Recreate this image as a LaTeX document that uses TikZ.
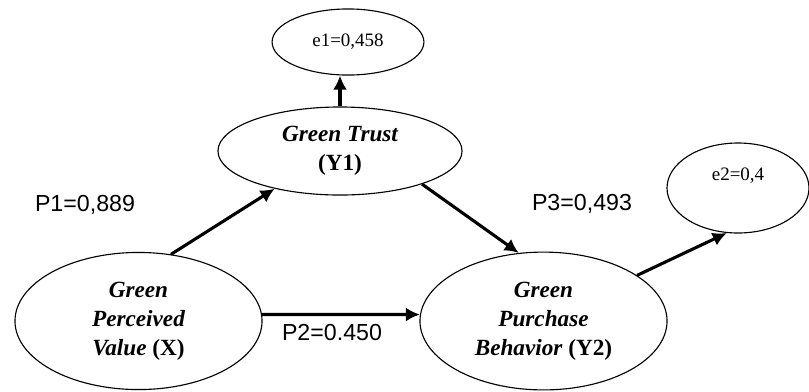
\documentclass[tikz,border=0pt]{standalone}
\usepackage{fontspec}
\setmainfont{Liberation Serif}
\newfontfamily\coeffont{Liberation Sans}
\usetikzlibrary{shapes.geometric, arrows.meta}

\tikzset{
    var/.style={ellipse, draw, line width=0.8pt, inner sep=0pt, align=center,
        font=\fontsize{16.5}{20.5}\selectfont\bfseries\itshape},
    err/.style={ellipse, draw, line width=0.8pt, inner sep=0pt,
        font=\fontsize{13.5}{16}\selectfont},
    link/.style={line width=2.2pt, -{Latex[length=10pt, width=10pt]}},
    coef/.style={font=\coeffont\fontsize{16.5}{20}\selectfont}
}

\begin{document}
\begin{tikzpicture}[x=0.025cm, y=-0.025cm]
    \useasboundingbox (0,0) rectangle (809,391);
    % latent variables
    \node [var, minimum width=175.7pt, minimum height=97.5pt] (X) at (138.5,321) {Green\\Perceived\\Value \textup{(X)}};
    \node [var, minimum width=173.6pt, minimum height=62.6pt] (Y1) at (340,151) {Green Trust\\\textup{(Y1)}};
    \node [var, minimum width=175.7pt, minimum height=98pt] (Y2) at (543.5,321) {Green\\Purchase\\Behavior \textup{(Y2)}};
    % error terms
    \node [err, minimum width=108pt, minimum height=47pt] (e1) at (348,42) {e1=0,458};
    \node [err, minimum width=101pt, minimum height=64pt,
        label={[name=e2text, err, draw=none, yshift=9pt]center:e2=0,4}] (e2) at (738,188) {};
    % paths
    \draw [link] (X.64) -- (Y1.210);
    \draw [link] (X.3) -- (Y2.177);
    \draw [link] (Y1.-22) -- (Y2.110);
    \draw [link] (Y1.north) -- (Y1.north |- e1.south);
    \draw [link] (Y2.26) -- (e2.256);
    % coefficients
    \node [coef] (p1) at (85,205) {P1=0,889};
    \node [coef] (p2) at (332,333) {P2=0.450};
    \node [coef] (p3) at (582,204) {P3=0,493};
\end{tikzpicture}
\end{document}
